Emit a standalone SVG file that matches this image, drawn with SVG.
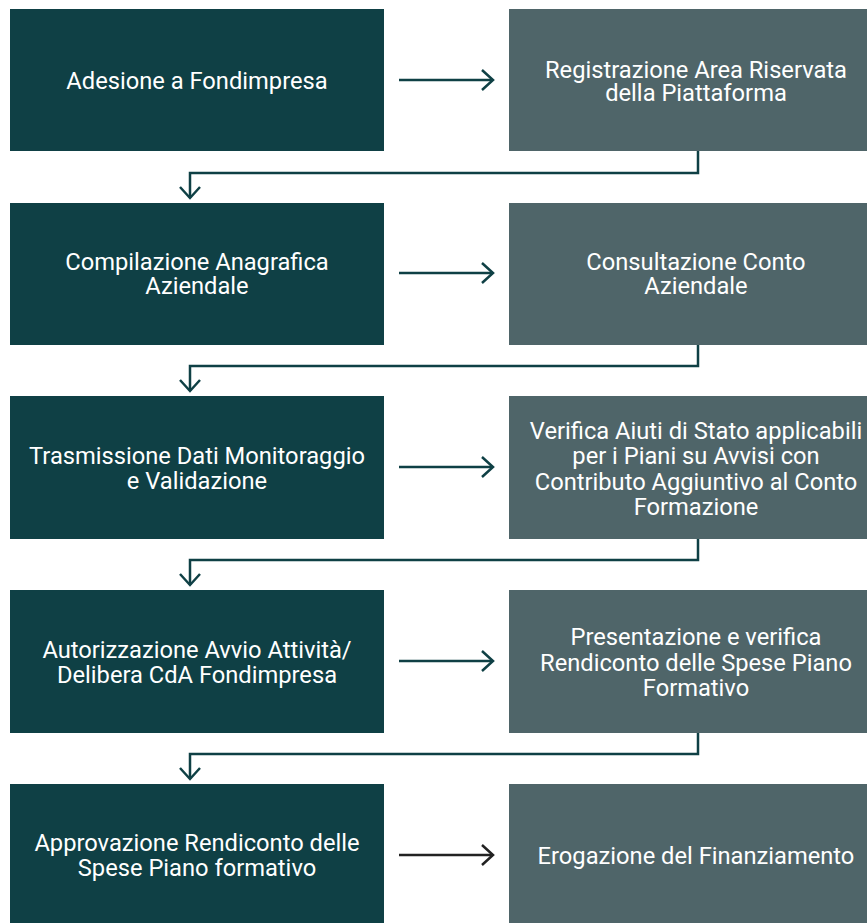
<svg xmlns="http://www.w3.org/2000/svg" width="867" height="923" viewBox="0 0 867 923">
<style>
.l{fill:#0f4045}
.r{fill:#4f6569}
text{font-family:Roboto,"Liberation Sans",sans-serif;font-size:23.7px;fill:#ffffff;text-anchor:middle}
.c{fill:none;stroke:#0f4045;stroke-width:2.5}
.k{stroke:#222222}
</style>
<defs>
<marker id="at" markerWidth="14" markerHeight="22" refX="12" refY="11" orient="auto" markerUnits="userSpaceOnUse">
<path d="M1,1 L12,11 L1,21" fill="none" stroke="#0f4045" stroke-width="2.5"/>
</marker>
<marker id="ak" markerWidth="14" markerHeight="22" refX="12" refY="11" orient="auto" markerUnits="userSpaceOnUse">
<path d="M1,1 L12,11 L1,21" fill="none" stroke="#222222" stroke-width="2.5"/>
</marker>
</defs>
<g id="n1"><rect class="l" x="10" y="9" width="374" height="142"/><text x="197" y="88.5">Adesione a Fondimpresa</text></g>
<g id="n2"><rect class="r" x="509" y="9" width="374" height="142"/><text x="696" y="77.5">Registrazione Area Riservata</text><text x="696" y="101.2">della Piattaforma</text></g>
<g id="n3"><rect class="l" x="10" y="203" width="374" height="142"/><text x="197" y="269.6">Compilazione Anagrafica</text><text x="197" y="294.3">Aziendale</text></g>
<g id="n4"><rect class="r" x="509" y="203" width="374" height="142"/><text x="696" y="269.6">Consultazione Conto</text><text x="696" y="294.3">Aziendale</text></g>
<g id="n5"><rect class="l" x="10" y="396" width="374" height="143"/><text x="197" y="463.8">Trasmissione Dati Monitoraggio</text><text x="197" y="488.8">e Validazione</text></g>
<g id="n6"><rect class="r" x="509" y="396" width="374" height="143"/><text x="696" y="439.3">Verifica Aiuti di Stato applicabili</text><text x="696" y="464.4">per i Piani su Avvisi con</text><text x="696" y="489.5">Contributo Aggiuntivo al Conto</text><text x="696" y="514.6">Formazione</text></g>
<g id="n7"><rect class="l" x="10" y="590" width="374" height="143"/><text x="197" y="657.8">Autorizzazione Avvio Attività/</text><text x="197" y="682.8">Delibera CdA Fondimpresa</text></g>
<g id="n8"><rect class="r" x="509" y="590" width="374" height="143"/><text x="696" y="644.5">Presentazione e verifica</text><text x="696" y="670.5">Rendiconto delle Spese Piano</text><text x="696" y="696.3">Formativo</text></g>
<g id="n9"><rect class="l" x="10" y="784" width="374" height="142"/><text x="197" y="851.3">Approvazione Rendiconto delle</text><text x="197" y="876.3">Spese Piano formativo</text></g>
<g id="n10"><rect class="r" x="509" y="784" width="374" height="142"/><text x="696" y="863.5">Erogazione del Finanziamento</text></g>
<g id="connectors">
<path class="c" d="M399,80 H493" marker-end="url(#at)"/>
<path class="c" d="M399,273 H493" marker-end="url(#at)"/>
<path class="c" d="M399,467 H493" marker-end="url(#at)"/>
<path class="c" d="M399,661 H493" marker-end="url(#at)"/>
<path class="c k" d="M399,855 H493" marker-end="url(#ak)"/>
<path class="c" d="M698,151 V173 H190 V198" marker-end="url(#at)"/>
<path class="c" d="M698,345 V366 H190 V391" marker-end="url(#at)"/>
<path class="c" d="M698,539 V560 H190 V585" marker-end="url(#at)"/>
<path class="c" d="M698,733 V754 H190 V779" marker-end="url(#at)"/>
</g>
</svg>
